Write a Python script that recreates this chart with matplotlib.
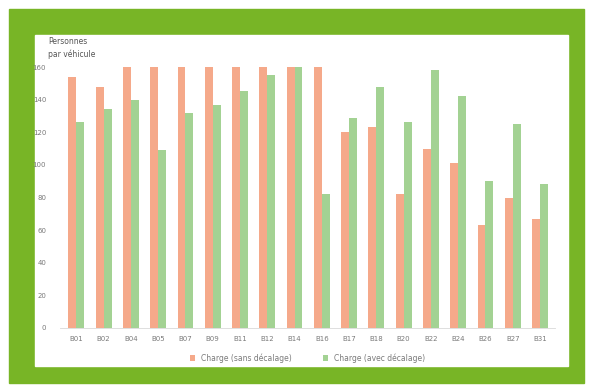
import matplotlib
matplotlib.use("Agg")
import matplotlib.pyplot as plt
import matplotlib.patches as mpatches
import numpy as np

lignes = ["B01", "B02", "B04", "B05", "B07", "B09", "B11", "B12", "B14",
          "B16", "B17", "B18", "B20", "B22", "B24", "B26", "B27", "B31"]
sans_decalage = [154, 148, 160, 160, 160, 160, 160, 160, 160,
                 160, 120, 123, 82, 110, 101, 63, 80, 67]
avec_decalage = [126, 134, 140, 109, 132, 137, 145, 155, 160,
                 82, 129, 148, 126, 158, 142, 90, 125, 88]
yticks = [0, 20, 40, 60, 80, 100, 120, 140, 160]

ORANGE = "#f5a98a"
GREEN = "#a3d293"
BORDER = "#78b526"
TXT = "#7a7a7a"

W, H = 591, 389
fig = plt.figure(figsize=(W / 100, H / 100), dpi=100)
fig.patch.set_facecolor("white")

# green frame + white panel
fig.patches.append(mpatches.Rectangle((9 / W, 1 - 383 / H), 575 / W, 374 / H,
                                      transform=fig.transFigure, color=BORDER, zorder=0))
fig.patches.append(mpatches.Rectangle((35 / W, 1 - 366 / H), 533 / W, 331 / H,
                                      transform=fig.transFigure, color="white", zorder=1))

ax = fig.add_axes([60 / W, 1 - 328 / H, 495 / W, 261 / H])
ax.set_facecolor("none")
ax.set_zorder(2)

x = np.arange(len(lignes))
w = 0.29
ax.bar(x - w / 2, sans_decalage, w, color=ORANGE, label="Charge (sans décalage)")
ax.bar(x + w / 2, avec_decalage, w, color=GREEN, label="Charge (avec décalage)")

ax.set_xlim(-0.6, len(lignes) - 0.45)
ax.set_ylim(0, 160)
ax.set_yticks(yticks)
ax.set_xticks(x)
ax.set_xticklabels(lignes)
ax.tick_params(axis="both", length=0, labelsize=5, labelcolor=TXT)
ax.tick_params(axis="x", pad=6)
ax.tick_params(axis="y", pad=10)
for s in ["top", "right", "left"]:
    ax.spines[s].set_visible(False)
ax.spines["bottom"].set_color("#d9d9d9")
ax.spines["bottom"].set_linewidth(0.6)

fig.text(48 / W, 1 - 48 / H, "Personnes\npar véhicule", fontsize=5.5, color="#555555",
         va="center", ha="left", zorder=3, linespacing=1.5)

ax.legend(loc="upper center", bbox_to_anchor=(0.5, -0.07), ncol=2, frameon=False,
          fontsize=5.5, labelcolor=TXT, handlelength=0.7, handleheight=0.7,
          columnspacing=4)

fig.savefig("out.png", dpi=100)
